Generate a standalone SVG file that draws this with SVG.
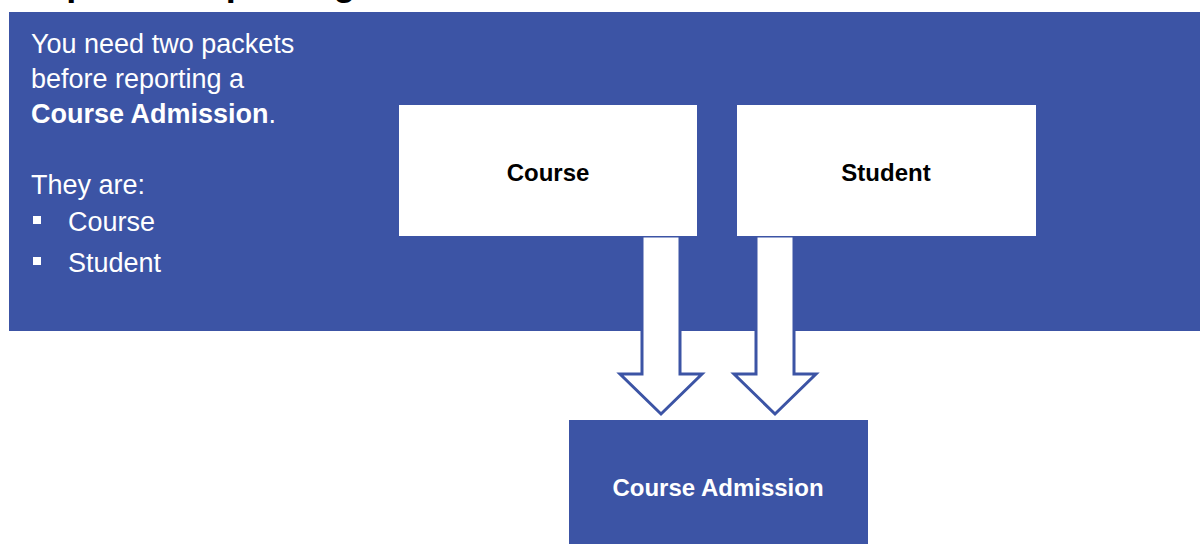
<svg xmlns="http://www.w3.org/2000/svg" width="1200" height="544" viewBox="0 0 1200 544">
<defs>
<style>
.t{font-family:"Liberation Sans",Arial,sans-serif;}
.w{fill:#ffffff;}
.b{font-weight:bold;}
.box{fill:#ffffff;}
.blue{fill:#3C54A5;}
.arrow{fill:#ffffff;stroke:#3C54A5;stroke-width:3;stroke-linejoin:miter;}
</style>
</defs>
<rect width="1200" height="544" fill="#ffffff"/>
<text class="t b" x="18" y="-5" font-size="36" fill="#000000" textLength="380" lengthAdjust="spacing">Dependent packages</text>
<g id="panel">
<rect class="blue" x="9" y="12" width="1191" height="319"/>
<g class="t w" font-size="27">
<text x="31" y="53">You need two packets</text>
<text x="31" y="88">before reporting a</text>
<text x="31" y="123"><tspan font-weight="bold">Course Admission</tspan>.</text>
<text x="31" y="194">They are:</text>
<text x="68" y="231">Course</text>
<text x="68" y="272">Student</text>
</g>
<rect class="w" x="33" y="216" width="8" height="8"/>
<rect class="w" x="33" y="257" width="8" height="8"/>
</g>
<g id="connectors">
<path class="arrow" d="M642,236 L680,236 L680,374 L702,374 L661,414 L620,374 L642,374 Z"/>
<path class="arrow" d="M756,236 L794,236 L794,374 L816,374 L775,414 L734,374 L756,374 Z"/>
</g>
<g id="course">
<rect class="box" x="399" y="105" width="298" height="131"/>
<text class="t b" x="548" y="181" font-size="24" text-anchor="middle" fill="#000000">Course</text>
</g>
<g id="student">
<rect class="box" x="737" y="105" width="299" height="131"/>
<text class="t b" x="886" y="181" font-size="24" text-anchor="middle" fill="#000000">Student</text>
</g>
<g id="course-admission">
<rect class="blue" x="569" y="420" width="299" height="124"/>
<text class="t b w" x="718" y="496" font-size="24" text-anchor="middle">Course Admission</text>
</g>
</svg>
